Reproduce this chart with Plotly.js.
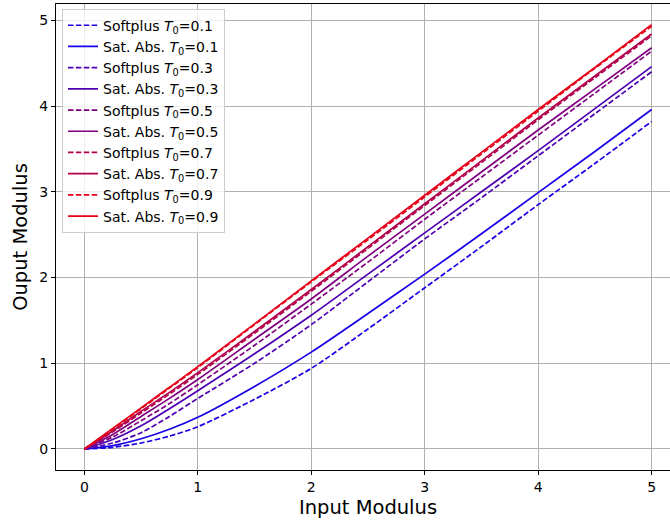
<!DOCTYPE html>
<html>
<head>
<meta charset="utf-8">
<script src="https://cdn.plot.ly/plotly-3.0.1.min.js"></script>
<style>
html, body { margin: 0; padding: 0; overflow: hidden; background: #fff; }
#chart { width: 680px; height: 522px; }
</style>
</head>
<body>
<div id="chart"></div>
<script>
// Input modulus sample points
const inputModulus = [0, 0.25, 0.5, 0.75, 1, 1.5, 2, 2.5, 3, 3.5, 4, 4.5, 5];

// Temperatures
const temps = [0.1, 0.3, 0.5, 0.7, 0.9];

// Output modulus, Softplus (dashed)
const softplus01 = [0, 0.02, 0.07, 0.15, 0.26, 0.58, 0.94, 1.40, 1.88, 2.36, 2.85, 3.33, 3.82];
const softplus03 = [0, 0.07, 0.19, 0.38, 0.59, 1.00, 1.45, 1.95, 2.45, 2.93, 3.42, 3.91, 4.40];
const softplus05 = [0, 0.14, 0.33, 0.53, 0.75, 1.21, 1.69, 2.18, 2.68, 3.17, 3.66, 4.15, 4.64];
const softplus07 = [0, 0.20, 0.42, 0.64, 0.87, 1.35, 1.84, 2.34, 2.84, 3.34, 3.84, 4.33, 4.82];
const softplus09 = [0, 0.23, 0.47, 0.71, 0.95, 1.45, 1.95, 2.44, 2.94, 3.44, 3.94, 4.44, 4.93];

// Output modulus, Saturating absolute (solid)
const satabs01 = [0, 0.04, 0.12, 0.23, 0.37, 0.73, 1.13, 1.58, 2.04, 2.51, 2.99, 3.47, 3.96];
const satabs03 = [0, 0.11, 0.27, 0.47, 0.68, 1.11, 1.56, 2.04, 2.52, 3.00, 3.48, 3.97, 4.46];
const satabs05 = [0, 0.17, 0.38, 0.59, 0.81, 1.28, 1.75, 2.25, 2.74, 3.23, 3.72, 4.20, 4.68];
const satabs07 = [0, 0.21, 0.44, 0.66, 0.89, 1.37, 1.86, 2.36, 2.86, 3.36, 3.86, 4.35, 4.84];
const satabs09 = [0, 0.24, 0.48, 0.72, 0.96, 1.46, 1.96, 2.46, 2.96, 3.46, 3.96, 4.45, 4.95];

const softplusSeries = [softplus01, softplus03, softplus05, softplus07, softplus09];
const satabsSeries = [satabs01, satabs03, satabs05, satabs07, satabs09];
const colors = ['rgb(25,0,230)', 'rgb(76,0,178)', 'rgb(128,0,128)', 'rgb(178,0,76)', 'rgb(230,0,25)'];

const traces = [];
temps.forEach((t, i) => {
  traces.push({
    x: inputModulus, y: softplusSeries[i], type: 'scatter', mode: 'lines',
    name: 'Softplus <i>T</i><sub>0</sub>=' + t,
    line: {color: colors[i], width: 1.7, dash: '5.5px,2.4px', shape: 'spline', smoothing: 0.8}
  });
  traces.push({
    x: inputModulus, y: satabsSeries[i], type: 'scatter', mode: 'lines',
    name: 'Sat. Abs. <i>T</i><sub>0</sub>=' + t,
    line: {color: colors[i], width: 1.7, shape: 'spline', smoothing: 0.8}
  });
});

const font = 'DejaVu Sans, Verdana, sans-serif';
const layout = {
  width: 680, height: 522,
  margin: {l: 56, r: 0, t: 4, b: 52},
  paper_bgcolor: '#fff', plot_bgcolor: '#fff',
  font: {family: font, size: 14, color: '#000'},
  showlegend: true,
  legend: {
    x: 0.0096, y: 0.99, xanchor: 'left', yanchor: 'top',
    bgcolor: 'rgba(255,255,255,0.8)', bordercolor: '#cccccc', borderwidth: 1,
    font: {family: font, size: 14, color: '#000'},
    itemwidth: 30
  },
  xaxis: {
    range: [-0.25, 5.25],
    tickvals: [0, 1, 2, 3, 4, 5],
    ticks: 'outside', ticklen: 4, tickwidth: 1, tickcolor: '#000',
    showgrid: true, gridcolor: '#b0b0b0', gridwidth: 1,
    zeroline: false,
    showline: true, linecolor: '#000', linewidth: 1, mirror: true,
    tickfont: {family: font, size: 14},
    title: {text: 'Input Modulus', font: {family: font, size: 19.5}, standoff: 6}
  },
  yaxis: {
    range: [-0.245, 5.19],
    tickvals: [0, 1, 2, 3, 4, 5],
    ticks: 'outside', ticklen: 4, tickwidth: 1, tickcolor: '#000',
    showgrid: true, gridcolor: '#b0b0b0', gridwidth: 1,
    zeroline: false,
    showline: true, linecolor: '#000', linewidth: 1, mirror: true,
    tickfont: {family: font, size: 14},
    title: {text: 'Ouput Modulus', font: {family: font, size: 19.5}, standoff: 6}
  }
};

Plotly.newPlot('chart', traces, layout, {displayModeBar: false, responsive: false});
</script>
</body>
</html>
